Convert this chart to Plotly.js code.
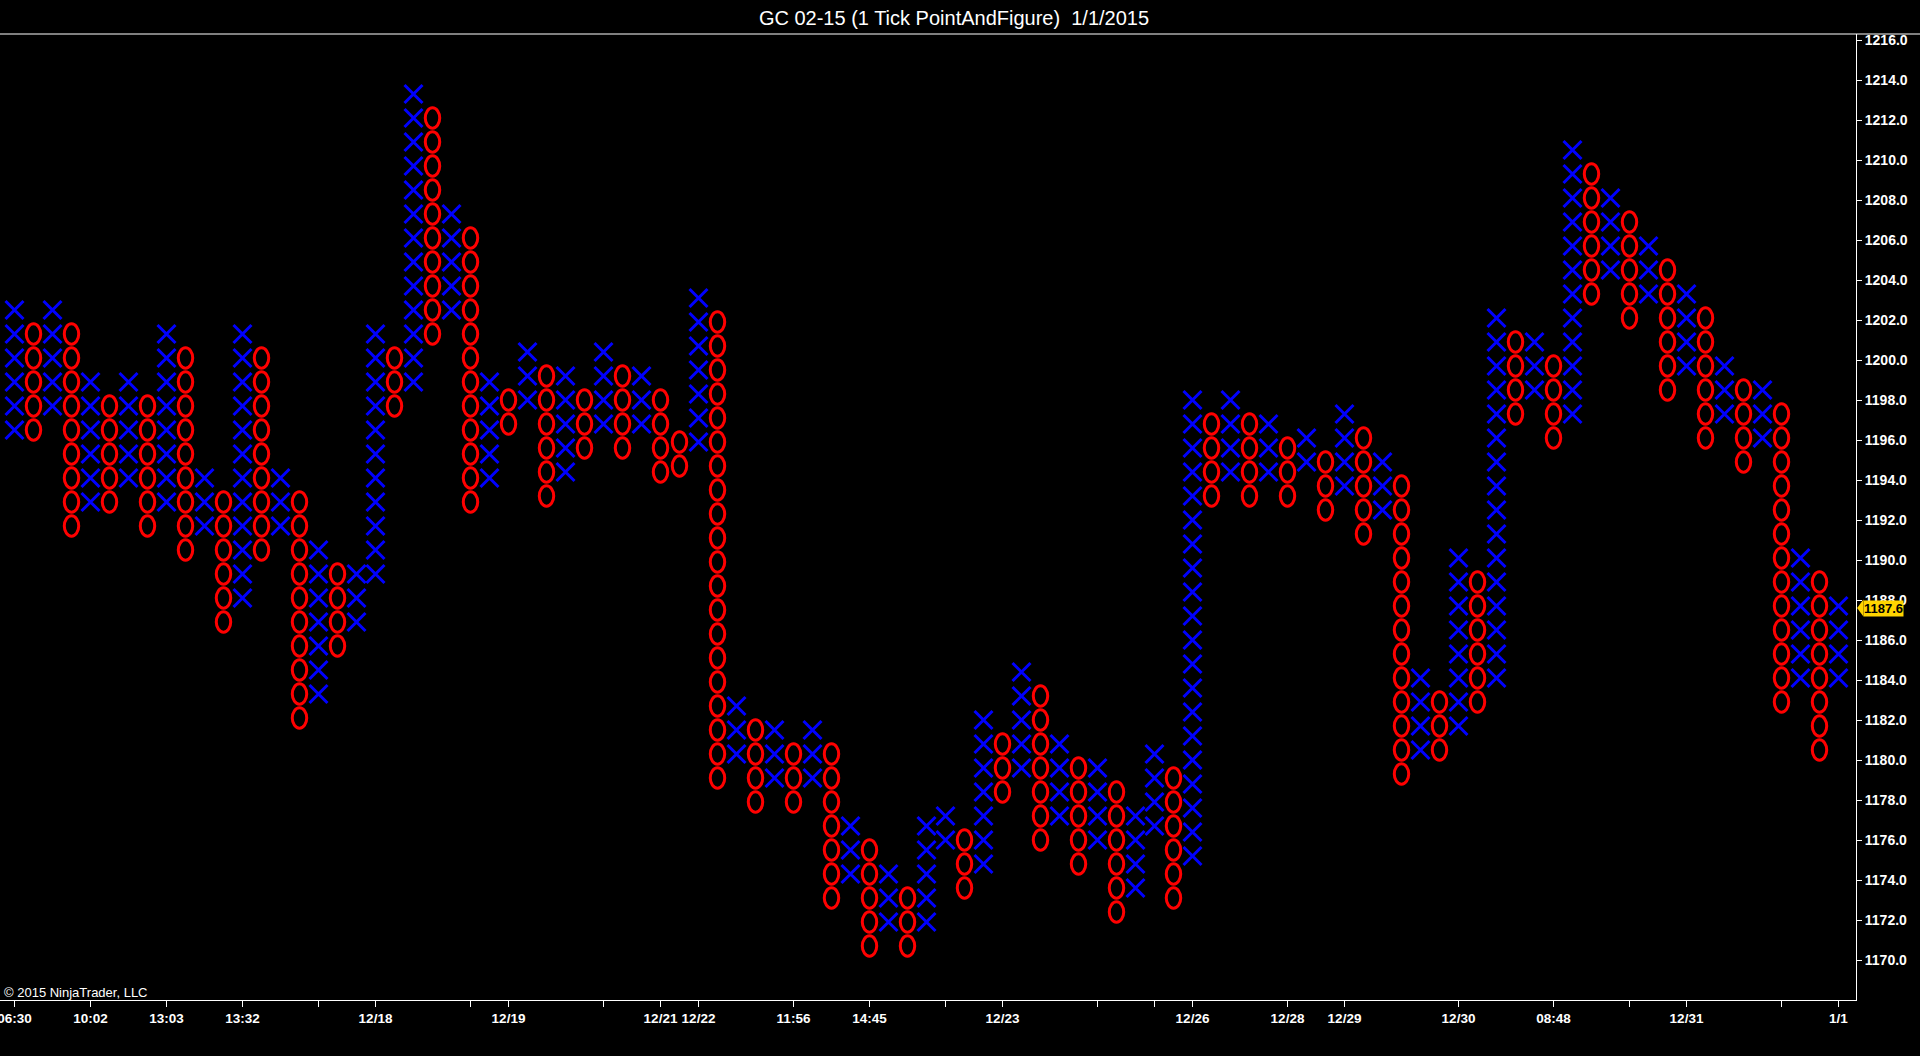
<!DOCTYPE html>
<html>
<head>
<meta charset="utf-8">
<script src="https://cdn.plot.ly/plotly-3.0.1.min.js"></script>
<style>
html,body{margin:0;padding:0;background:#000;overflow:hidden;}
#chart{width:1920px;height:1056px;}
</style>
</head>
<body>
<div id="chart"></div>
<script>
// ---- Point & Figure columns (one entry per column) ----
const columnTypes = [
 'X','O','X','O','X','O','X','O','X','O',
 'X','O','X','O','X','O','X','O','X','X',
 'O','X','O','X','O','X','O','X','O','X',
 'O','X','O','X','O','O','X','O','X','O',
 'X','O','X','O','X','O','X','O','X','X',
 'O','X','O','X','O','X','O','X','O','X',
 'X','O','X','O','X','O','X','O','X','O',
 'X','O','X','O','X','O','X','O','X','O',
 'X','O','X','O','X','O','X','O','X','O',
 'X','O','X','O','X','O','X'
];
// price of the highest box in each column
const columnTops = [
 1202.5,1201.3,1202.5,1201.3,1198.9,1197.7,1198.9,1197.7,1201.3,1200.1,
 1194.1,1192.9,1201.3,1200.1,1194.1,1192.9,1190.5,1189.3,1189.3,1201.3,
 1200.1,1213.3,1212.1,1207.3,1206.1,1198.9,1198.0,1200.4,1199.2,1199.2,
 1198.0,1200.4,1199.2,1199.2,1198.0,1195.9,1203.1,1201.9,1182.7,1181.5,
 1181.5,1180.3,1181.5,1180.3,1176.7,1175.5,1174.3,1173.1,1176.7,1177.2,
 1176.0,1182.0,1180.8,1184.4,1183.2,1180.8,1179.6,1179.6,1178.4,1177.2,
 1180.3,1179.1,1198.0,1196.8,1198.0,1196.8,1196.8,1195.6,1196.1,1194.9,
 1197.3,1196.1,1194.9,1193.7,1184.1,1182.9,1190.1,1188.9,1202.1,1200.9,
 1200.9,1199.7,1210.5,1209.3,1208.1,1206.9,1205.7,1204.5,1203.3,1202.1,
 1199.7,1198.5,1198.5,1197.3,1190.1,1188.9,1187.7
];
// number of boxes in each column
const columnBoxes = [
 6,5,5,9,6,5,5,6,8,9,
 3,6,12,9,3,10,7,4,3,11,
 3,13,10,5,12,5,2,3,6,5,
 3,4,4,3,4,2,7,20,3,4,
 3,3,3,7,3,5,3,3,5,2,
 3,7,3,5,7,4,5,4,6,4,
 4,6,20,4,4,4,3,3,2,3,
 4,5,3,13,4,3,8,6,16,4,
 3,4,12,6,4,5,3,6,4,6,
 3,4,3,13,6,8,4
];
const boxSize = 1.2;
const lastPrice = 1187.6;

// x-axis ticks (column index) and their labels
const tickColumns = [0,4,8,12,16,19,24,26,31,34,36,41,45,49,52,57,60,62,67,70,76,81,85,88,93,96];
const tickLabels  = ['06:30','10:02','13:03','13:32','','12/18','','12/19','','12/21','12/22','11:56','14:45','','12/23','','','12/26','12/28','12/29','12/30','08:48','','12/31','','1/1'];

// price-axis ticks
const priceTicks = [1170,1172,1174,1176,1178,1180,1182,1184,1186,1188,1190,1192,1194,1196,1198,1200,1202,1204,1206,1208,1210,1212,1214,1216];

const titleText = 'GC 02-15 (1 Tick PointAndFigure)\u00a0 1/1/2015';
const copyrightText = '\u00a9 2015 NinjaTrader, LLC';

// ---- build marks ----
const BLUE = 'rgb(0,0,255)';
const RED = 'rgb(255,0,0)';
const xCols = [], xPrices = [];
const oShapes = [];
for (let i = 0; i < columnTypes.length; i++) {
  for (let k = 0; k < columnBoxes[i]; k++) {
    const p = Math.round((columnTops[i] - k * boxSize) * 100) / 100;
    if (columnTypes[i] === 'X') {
      xCols.push(i); xPrices.push(p);
    } else {
      oShapes.push({
        type: 'circle', xref: 'x', yref: 'y',
        x0: i - 0.38, x1: i + 0.38,
        y0: p - 0.51, y1: p + 0.51,
        line: {color: RED, width: 3},
        layer: 'above'
      });
    }
  }
}

const sans = '"Liberation Sans", Arial, sans-serif';

const traces = [{
  type: 'scatter', mode: 'markers',
  x: xCols, y: xPrices,
  marker: {symbol: 'x-thin-open', size: 18, color: BLUE, line: {color: BLUE, width: 3}},
  hoverinfo: 'skip', showlegend: false
}];

const shapes = oShapes.concat([
  {type: 'line', xref: 'paper', yref: 'paper', x0: 0, x1: 1920/1856, y0: 1, y1: 1,
   line: {color: '#ffffff', width: 1}},
  {type: 'path', xref: 'paper', yref: 'y',
   path: 'M 1.0006,' + lastPrice + ' L 1.0040,' + (lastPrice + 0.42) + ' L 1.0040,' + (lastPrice - 0.42) + ' Z',
   fillcolor: '#FFD400', line: {width: 0}}
]);

const layout = {
  width: 1920, height: 1056, autosize: false,
  paper_bgcolor: '#000000', plot_bgcolor: '#000000',
  margin: {l: 0, r: 64, t: 34, b: 56, pad: 0},
  showlegend: false,
  title: {
    text: titleText, x: 954/1920, xanchor: 'center', xref: 'container',
    y: 1 - 17.5/1056, yanchor: 'middle', yref: 'container',
    font: {family: sans, size: 20, color: '#ffffff'}
  },
  xaxis: {
    range: [-14.5/19, (1856 - 14.5)/19],
    showgrid: false, zeroline: false,
    showline: true, linecolor: '#ffffff', linewidth: 1,
    ticks: 'outside', ticklen: 6, tickwidth: 1, tickcolor: '#ffffff',
    tickmode: 'array', tickvals: tickColumns, ticktext: tickLabels, tickangle: 0,
    ticklabeloverflow: 'allow',
    tickfont: {family: sans, size: 13.5, color: '#ffffff', weight: 'bold'},
    fixedrange: true
  },
  yaxis: {
    side: 'right',
    range: [1168.0, 1216.3],
    showgrid: false, zeroline: false,
    showline: true, linecolor: '#ffffff', linewidth: 1,
    ticks: 'outside', ticklen: 5, tickwidth: 1, tickcolor: '#ffffff',
    tickmode: 'array', tickvals: priceTicks,
    ticktext: priceTicks.map(v => v.toFixed(1)),
    tickfont: {family: sans, size: 14, color: '#ffffff', weight: 'bold'},
    fixedrange: true
  },
  shapes: shapes,
  annotations: [
    {text: copyrightText, xref: 'paper', yref: 'paper', x: 0.001, y: 8/966,
     xanchor: 'left', yanchor: 'middle', showarrow: false,
     font: {family: sans, size: 13, color: '#ffffff'}},
    {text: lastPrice.toFixed(1), xref: 'paper', yref: 'y', x: 1863/1856, y: lastPrice,
     xanchor: 'left', yanchor: 'middle', showarrow: false,
     bgcolor: '#FFD400', borderpad: 0,
     font: {family: sans, size: 13, color: '#000000', weight: 'bold'}}
  ]
};

Plotly.newPlot('chart', traces, layout, {displayModeBar: false, staticPlot: true});
</script>
</body>
</html>
